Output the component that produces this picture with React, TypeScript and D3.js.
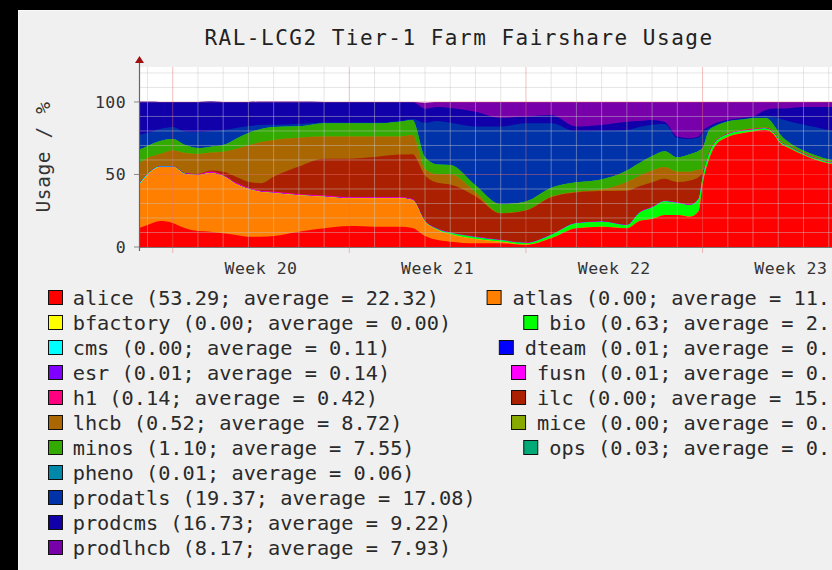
import React from 'react';
import * as d3 from 'd3';

// sample times in days, measured from the start of week 20
const days = [-1.33, -1, -0.5, 0, 0.5, 1, 1.5, 2, 2.5, 3, 3.5, 4, 5, 6, 7, 8, 9, 9.5, 10, 10.5, 11, 12, 13, 14, 15, 16, 17, 18, 18.5, 19, 19.5, 20, 20.5, 20.85, 21, 21.25, 21.5, 22, 22.5, 23, 23.5, 23.9, 24, 24.5, 25, 25.5, 26, 26.2];

// usage in percent of the farm, one value per sample
const alice = [13.1, 15.2, 17.9, 16.6, 12.9, 11.0, 10.6, 9.4, 8.3, 7.1, 7.1, 7.6, 10.6, 12.9, 14.5, 14.0, 14.0, 13.1, 7.6, 4.8, 3.7, 2.6, 2.6, 1.4, 6.0, 12.9, 14.0, 12.9, 17.9, 19.3, 22.1, 22.1, 20.9, 24.8, 42.8, 60.0, 69.7, 75.9, 78.3, 79.7, 80.7, 75.9, 73.1, 67.6, 63.4, 60.0, 57.6, 57.2];
const atlas = [29.7, 34.5, 37.2, 38.6, 37.4, 38.6, 40.5, 39.5, 35.2, 32.9, 30.8, 29.7, 25.0, 21.8, 19.1, 19.6, 19.6, 19.3, 9.9, 6.9, 5.1, 3.0, 1.0, 0.3, 0, 0, 0, 0, 0, 0, 0, 0, 0, 0, 0, 0, 0, 0, 0, 0, 0, 0, 0, 0, 0, 0, 0, 0];
const bfactory = [0, 0, 0, 0, 0, 0, 0, 0, 0, 0, 0, 0, 0, 0, 0, 0, 0, 0, 0, 0, 0, 0, 0, 0, 0, 0, 0, 0, 0, 0, 0, 0, 0, 0, 0, 0, 0, 0, 0, 0, 0, 0, 0, 0, 0, 0, 0, 0];
const bio = [0, 0, 0, 0, 0, 0, 0, 0, 0, 0, 0, 0, 0, 0, 0, 0, 0, 0, 0.3, 0.6, 1.0, 1.2, 1.0, 1.0, 2.3, 3.4, 3.4, 2.1, 5.7, 8.0, 9.5, 8.3, 8.0, 8.5, 5.0, 4.0, 2.5, 1.8, 1.5, 1.2, 1.0, 1.0, 1.0, 0.9, 0.8, 0.8, 0.7, 0.7];
const cms = [0.8, 0.6, 0.4, 0.3, 0.2, 0.1, 0, 0, 0, 0, 0, 0, 0, 0, 0, 0, 0, 0, 0, 0, 0, 0, 0, 0, 0, 0, 0, 0, 0, 0, 0, 0, 0, 0, 0, 0, 0, 0, 0, 0, 0, 0, 0, 0, 0, 0, 0, 0];
const dteam = [0, 0, 0, 0, 0, 0, 0, 0, 0, 0, 0, 0, 0, 0, 0, 0, 0, 0, 0, 0, 0, 0, 0, 0, 0, 0, 0, 0, 0, 0, 0, 0, 0, 0, 0, 0, 0, 0, 0, 0, 0, 0, 0, 0, 0, 0, 0, 0];
const esr = [0, 0, 0, 0, 0.3, 0.3, 0.3, 0.3, 0.3, 0.3, 0.3, 0.3, 0.3, 0.3, 0.3, 0.3, 0.3, 0.3, 0.1, 0.1, 0.1, 0.1, 0.1, 0.1, 0.1, 0.1, 0.1, 0.1, 0.1, 0.1, 0.1, 0.1, 0.1, 0.1, 0.1, 0.1, 0.1, 0.1, 0.1, 0.1, 0.1, 0.1, 0.1, 0.1, 0.1, 0.1, 0.1, 0.1];
const fusn = [0, 0, 0, 0, 0, 0, 0.2, 0.2, 0.2, 0.2, 0.2, 0.2, 0.2, 0.2, 0.2, 0.2, 0.2, 0.2, 0.1, 0.1, 0.1, 0.1, 0.1, 0.1, 0.1, 0.1, 0.1, 0.1, 0.1, 0.1, 0.1, 0.1, 0.1, 0.1, 0.1, 0.1, 0.1, 0.1, 0.1, 0.1, 0.1, 0.1, 0.1, 0.1, 0.1, 0.1, 0.1, 0.1];
const h1 = [0, 0, 0, 0, 0, 0.4, 0.4, 0.4, 0.4, 0.4, 0.4, 0.4, 0.4, 0.4, 0.4, 0.4, 0.4, 0.4, 0.2, 0.2, 0.2, 0.2, 0.2, 0.2, 0.2, 0.2, 0.2, 0.2, 0.2, 0.2, 0.2, 0.2, 0.2, 0.2, 0.2, 0.2, 0.2, 0.2, 0.2, 0.2, 0.2, 0.2, 0.2, 0.2, 0.2, 0.2, 0.2, 0.2];
const ilc = [0, 0, 0, 0, 0, 0, 0.7, 2.1, 4.1, 4.1, 5.2, 10.3, 19.0, 25.3, 26.4, 27.6, 29.2, 30.7, 31.3, 31.6, 32.9, 27.8, 18.1, 22.0, 25.6, 20.9, 20.8, 23.4, 17.9, 17.0, 15.1, 14.0, 16.6, 14.6, 3.0, 0.5, 0.1, 0, 0, 0, 0, 0, 0, 0, 0, 0, 0, 0];
const lhcb = [14.2, 11.1, 8.6, 11.1, 14.0, 13.7, 12.4, 13.8, 19.1, 25.0, 28.4, 25.3, 19.8, 15.2, 15.2, 14.0, 12.4, 13.2, 4.1, 5.7, 6.9, 2.8, 0.3, 0.3, 0.5, 0.5, 1.0, 6.0, 7.0, 8.0, 8.0, 7.0, 6.0, 5.0, 2.0, 0.8, 0.5, 0.5, 0.5, 0.5, 0.5, 0.5, 0.5, 0.5, 0.5, 0.5, 0.5, 0.5];
const mice = [0, 0, 0, 0, 0, 0, 0, 0, 0, 0, 0, 0, 0, 0, 0, 0, 0, 0, 0, 0, 0, 0, 0, 0, 0, 0, 0, 0, 0, 0, 0, 0, 0, 0, 0, 0, 0, 0, 0, 0, 0, 0, 0, 0, 0, 0, 0, 0];
const minos = [9.2, 8.3, 9.0, 7.9, 5.5, 4.1, 4.1, 4.6, 6.9, 8.6, 9.0, 9.0, 7.9, 9.2, 9.2, 9.2, 10.3, 10.3, 8.3, 6.9, 6.6, 4.8, 6.0, 6.0, 6.0, 6.5, 7.0, 8.0, 9.0, 10.0, 11.0, 10.0, 12.0, 13.0, 15.0, 14.7, 10.0, 8.0, 7.0, 7.0, 6.4, 4.4, 4.4, 1.8, 1.5, 1.3, 1.2, 1.1];
const ops = [0, 0, 0, 0, 0, 0, 0, 0, 0, 0, 0, 0, 0, 0, 0, 0, 0, 0, 0, 0, 0, 0, 0, 0, 0, 0, 0, 0, 0, 0, 0, 0, 0, 0, 0, 0, 0, 0, 0, 0, 0, 0, 0, 0, 0, 0, 0, 0];
const pheno = [0, 0, 0, 0, 0, 0, 0, 0, 0, 0, 0, 0, 0, 0, 0, 0, 0, 0, 0, 0, 0, 0, 0, 0, 0, 0, 0, 0, 0, 0, 0, 0, 0, 0, 0, 0, 0, 0, 0, 0, 0, 0, 0, 0, 0, 0, 0, 0];
const prodatls = [10.3, 9.0, 8.3, 8.3, 9.2, 11.0, 10.6, 10.3, 7.6, 4.8, 2.8, 1.4, 1.7, 0.5, 0.5, 0.5, 0.5, 0.8, 23.8, 30.0, 29.0, 40.4, 53.6, 53.9, 44.5, 35.0, 33.6, 27.9, 24.9, 21.5, 18.7, 13.4, 10.6, 9.2, 10.4, 1.6, 1.1, 0.5, 0.6, 0.6, 1.5, 7.3, 9.6, 15.2, 17.9, 19.5, 20.1, 20.3];
const prodcms = [22.8, 21.4, 18.6, 17.2, 20.5, 20.7, 20.5, 19.3, 17.9, 16.6, 15.9, 15.9, 15.2, 14.2, 14.2, 14.2, 13.1, 11.6, 9.7, 9.7, 10.3, 10.3, 6.0, 4.6, 5.7, 3.4, 3.9, 5.7, 4.1, 3.4, 1.4, 0.9, 0.5, 0.6, 1.4, 1.0, 1.0, 0.5, 0.5, 0.5, 4.0, 6.0, 6.5, 9.5, 12.0, 14.0, 16.0, 16.3];
const prodlhcb = [0, 0, 0, 0, 0, 0, 0, 0, 0, 0, 0, 0, 0, 0, 0, 0, 0, 0.1, 4.1, 3.4, 4.1, 6.7, 11.0, 10.1, 9.0, 17.0, 15.9, 13.6, 13.1, 12.4, 13.8, 23.9, 25.0, 23.9, 20.0, 17.0, 14.7, 12.4, 11.2, 10.1, 5.5, 4.5, 4.5, 4.1, 3.5, 3.5, 3.5, 3.5];

const groupNames = ['alice', 'atlas', 'bfactory', 'bio', 'cms', 'dteam', 'esr', 'fusn', 'h1', 'ilc', 'lhcb', 'mice', 'minos', 'ops', 'pheno', 'prodatls', 'prodcms', 'prodlhcb'];
const groupSeries = [alice, atlas, bfactory, bio, cms, dteam, esr, fusn, h1, ilc, lhcb, mice, minos, ops, pheno, prodatls, prodcms, prodlhcb];
const groupColors = ['#ff0000', '#ff8000', '#ffff00', '#00ff00', '#00ffff', '#0000ff', '#8000ff', '#ff00ff', '#ff0080', '#aa2000', '#aa6600', '#88aa00', '#33aa00', '#00aa77', '#0088aa', '#0033aa', '#1100aa', '#7700aa'];
const currentValues = [53.29, 0.00, 0.00, 0.63, 0.00, 0.01, 0.01, 0.01, 0.14, 0.00, 0.52, 0.00, 1.10, 0.03, 0.01, 19.37, 16.73, 8.17];
const averageValues = [22.32, 11.41, 0.00, 2.37, 0.11, 0.03, 0.14, 0.02, 0.42, 15.26, 8.72, 0.01, 7.55, 0.04, 0.06, 17.08, 9.22, 7.93];

const leftLegend = ['alice', 'bfactory', 'cms', 'esr', 'h1', 'lhcb', 'minos', 'pheno', 'prodatls', 'prodcms', 'prodlhcb'];
const rightLegend = ['atlas', 'bio', 'dteam', 'fusn', 'ilc', 'mice', 'ops'];

const weekLabels = ['Week 20', 'Week 21', 'Week 22', 'Week 23'];
const weekStarts = [0, 7, 14, 21];
const yTickValues = [0, 50, 100];

const width = 832;
const height = 570;
const plot = { left: 139, right: 832, top: 67, bottom: 247 };
const mono = '"DejaVu Sans Mono", "Liberation Mono", monospace';

export default function App() {
  const x = d3.scaleLinear().domain([-1.336, 26.13]).range([plot.left, plot.right]);
  const y = d3.scaleLinear().domain([0, 124.1]).range([plot.bottom, plot.top]);

  const rows = days.map((d, i) => {
    const row: any = { day: d };
    groupNames.forEach((g, k) => { row[g] = groupSeries[k][i]; });
    return row;
  });
  const stacked = d3.stack().keys(groupNames)(rows);
  // each layer is filled from the axis up to its own top, drawn top layer first,
  // so neighbouring layers never leave a seam between them
  const area = d3.area<any>()
    .x((d) => x(d.data.day))
    .y0(y(0))
    .y1((d) => y(d[1]))
    .curve(d3.curveMonotoneX);

  const minorDays = d3.range(-1, 27).filter((d) => weekStarts.indexOf(d) < 0);
  const minorY = d3.range(10, 130, 10).filter((v) => v % 50 !== 0);

  const legendFont = 20.3;
  const adv = legendFont * 0.602;
  const label = (name: string) => {
    const k = groupNames.indexOf(name);
    return `${name} (${currentValues[k].toFixed(2)}; average = ${averageValues[k].toFixed(2)})`;
  };
  const colorOf = (name: string) => groupColors[groupNames.indexOf(name)];

  return (
    <svg width={width} height={height} style={{ position: 'absolute', left: 0, top: 0, display: 'block' }}>
      <defs>
        <clipPath id="plotClip">
          <rect x={plot.left} y={plot.top} width={plot.right - plot.left} height={plot.bottom - plot.top} />
        </clipPath>
      </defs>
      <rect x={0} y={0} width={width} height={height} fill="#f0f0f0" />
      <rect x={0} y={0} width={width} height={10} fill="#000" />
      <rect x={0} y={0} width={18} height={height} fill="#000" />
      <line x1={18.5} y1={10} x2={18.5} y2={height} stroke="#fafafa" />
      <line x1={18} y1={10.5} x2={width} y2={10.5} stroke="#fafafa" />

      <text x={459} y={45} textAnchor="middle" fontFamily={mono} fontSize={21} letterSpacing={1.5} fill="#222">
        RAL-LCG2 Tier-1 Farm Fairshare Usage
      </text>

      <rect x={plot.left} y={plot.top} width={plot.right - plot.left} height={plot.bottom - plot.top} fill="#fff" />

      <g clipPath="url(#plotClip)">
        {stacked.slice().reverse().map((s) => (
          <path key={s.key} d={area(s as any) || ''} fill={colorOf(s.key as string)} />
        ))}
        {minorDays.map((d) => (
          <line key={'vx' + d} x1={x(d)} x2={x(d)} y1={plot.top} y2={plot.bottom} stroke="rgba(200,200,200,0.45)" />
        ))}
        {minorY.map((v) => (
          <line key={'hy' + v} x1={plot.left} x2={plot.right} y1={y(v)} y2={y(v)} stroke="rgba(200,200,200,0.45)" />
        ))}
        {[50, 100].map((v) => (
          <line key={'HY' + v} x1={plot.left} x2={plot.right} y1={y(v)} y2={y(v)} stroke="rgba(230,110,110,0.45)" />
        ))}
      </g>
      {weekStarts.map((d) => (
        <line key={'VX' + d} x1={x(d)} x2={x(d)} y1={plot.top} y2={plot.bottom + 6} stroke="rgba(230,110,110,0.45)" />
      ))}

      {/* axes */}
      <line x1={plot.left} x2={plot.right} y1={plot.bottom + 0.5} y2={plot.bottom + 0.5} stroke="#777" />
      <line x1={plot.left + 0.5} x2={plot.left + 0.5} y1={plot.bottom + 4} y2={60} stroke="#666" strokeWidth={1.2} />
      <path d={`M${plot.left + 0.5},56 L${plot.left - 4},63 L${plot.left + 5},63 Z`} fill="#a01010" />
      {yTickValues.map((v) => (
        <g key={'yt' + v}>
          <line x1={plot.left - 5} x2={plot.left} y1={y(v)} y2={y(v)} stroke="#888" />
          <text x={126} y={y(v) + 6} textAnchor="end" fontFamily={mono} fontSize={16.5} letterSpacing={0.4} fill="#333">{v}</text>
        </g>
      ))}
      {weekLabels.map((w, i) => (
        <text key={w} x={x(weekStarts[i] + 3.5)} y={273.5} textAnchor="middle" fontFamily={mono} fontSize={16.5} letterSpacing={0.5} fill="#333">{w}</text>
      ))}
      <text transform="translate(50,157) rotate(-90)" textAnchor="middle" fontFamily={mono} fontSize={19.5} letterSpacing={0.6} fill="#333">Usage / %</text>

      {/* legend: left column left-aligned, right column right-aligned past the picture edge */}
      {leftLegend.map((name, i) => {
        const top = 290 + i * 25;
        return (
          <g key={name}>
            <rect x={48.5} y={top + 0.5} width={14} height={14} fill={colorOf(name)} stroke="#111" />
            <text x={72.7} y={top + 14.5} fontFamily={mono} fontSize={legendFont} fill="#2a2a2a">{label(name)}</text>
          </g>
        );
      })}
      {rightLegend.map((name, i) => {
        const top = 290 + i * 25;
        const full = label(name);
        const start = 867 - full.length * adv;
        const shown = full.slice(0, Math.floor((833 - start) / adv));
        return (
          <g key={name}>
            <rect x={start - 25.5} y={top + 0.5} width={14} height={14} fill={colorOf(name)} stroke="#111" />
            <text x={start} y={top + 14.5} fontFamily={mono} fontSize={legendFont} fill="#2a2a2a">{shown}</text>
          </g>
        );
      })}
    </svg>
  );
}
